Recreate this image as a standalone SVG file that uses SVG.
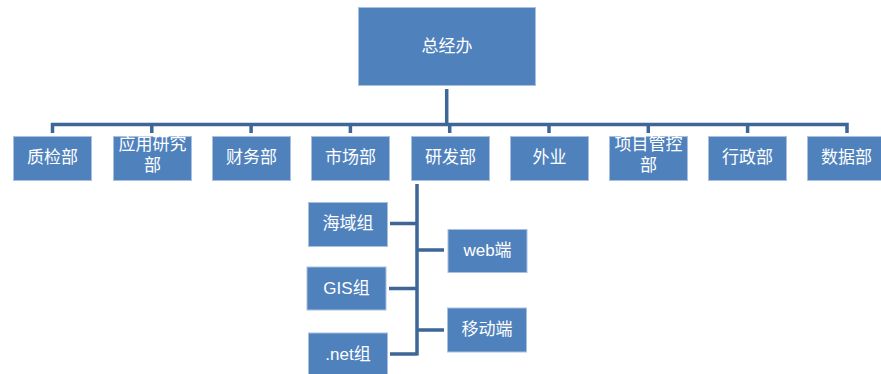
<svg xmlns="http://www.w3.org/2000/svg" width="881" height="374" viewBox="0 0 881 374">
<style>
.b{fill:#4f81bd;stroke:#a9c0de;stroke-width:1}
.t{fill:#fff;font-family:"Liberation Sans","Noto Sans CJK SC",sans-serif;font-size:17px;text-anchor:middle;dominant-baseline:central}
.c{stroke:#3e6697;stroke-width:3.5;fill:none}
</style>
<rect width="881" height="374" fill="#fff"/>
<g id="connectors">
<path class="c" d="M446.7 89V124.5M52.5 133V124.5H847V133M151.8 124.5V133M251.1 124.5V133M350.4 124.5V133M449.7 124.5V133M549 124.5V133M648.3 124.5V133M747.6 124.5V133"/>
<path class="c" d="M417 184V355.5M390 223.5H417M389 288.5H417M390 354H417M417 250H444M417 330H444"/>
</g>
<g id="n0"><rect class="b" x="358.5" y="7.5" width="177" height="78"/><text class="t" x="447" y="46">总经办</text></g>
<g id="n1"><rect class="b" x="13.5" y="136.5" width="78" height="44"/><text class="t" x="52.5" y="157">质检部</text></g>
<g id="n2"><rect class="b" x="113.5" y="136.5" width="78" height="44"/><text class="t" x="152.5" y="144">应用研究</text><text class="t" x="152.5" y="165">部</text></g>
<g id="n3"><rect class="b" x="212.5" y="136.5" width="78" height="44"/><text class="t" x="251.5" y="157">财务部</text></g>
<g id="n4"><rect class="b" x="311.5" y="136.5" width="78" height="44"/><text class="t" x="350.5" y="157">市场部</text></g>
<g id="n5"><rect class="b" x="411.5" y="136.5" width="78" height="44"/><text class="t" x="450.5" y="157">研发部</text></g>
<g id="n6"><rect class="b" x="510.5" y="136.5" width="78" height="44"/><text class="t" x="549.5" y="157">外业</text></g>
<g id="n7"><rect class="b" x="609.5" y="136.5" width="78" height="44"/><text class="t" x="648.5" y="144">项目管控</text><text class="t" x="648.5" y="165">部</text></g>
<g id="n8"><rect class="b" x="708.5" y="136.5" width="78" height="44"/><text class="t" x="747.5" y="157">行政部</text></g>
<g id="n9"><rect class="b" x="807.5" y="136.5" width="78" height="44"/><text class="t" x="846.5" y="157">数据部</text></g>
<g id="n10"><rect class="b" x="308.5" y="202.5" width="79" height="44"/><text class="t" x="348" y="223.5">海域组</text></g>
<g id="n11"><rect class="b" x="307" y="267" width="79" height="43"/><text class="t" x="346.5" y="288.5">GIS组</text></g>
<g id="n12"><rect class="b" x="308.5" y="333" width="79" height="44"/><text class="t" x="348" y="354">.net组</text></g>
<g id="n13"><rect class="b" x="448" y="229.5" width="79" height="43"/><text class="t" x="487.5" y="250">web端</text></g>
<g id="n14"><rect class="b" x="447.5" y="308" width="79" height="44"/><text class="t" x="487" y="329.5">移动端</text></g>
</svg>
